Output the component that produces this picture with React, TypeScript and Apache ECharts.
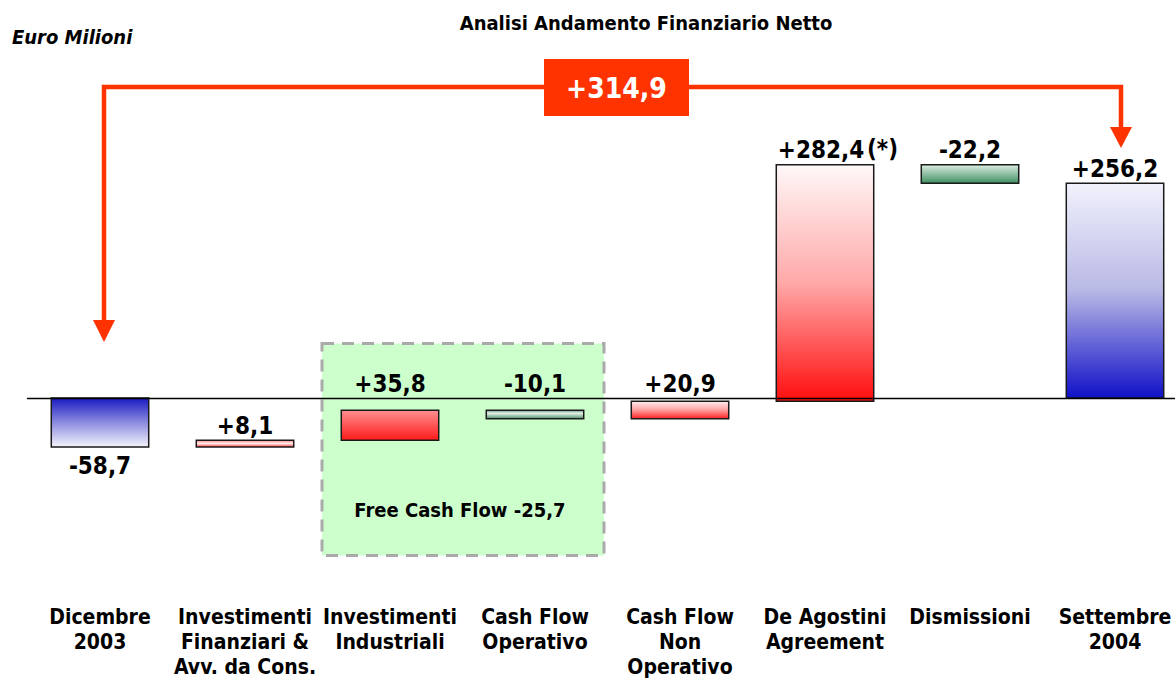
import React, { useEffect, useRef } from 'react';
import * as echarts from 'echarts';

const categories = [
  'Dicembre\n2003',
  'Investimenti\nFinanziari &\nAvv. da Cons.',
  'Investimenti\nIndustriali',
  'Cash Flow\nOperativo',
  'Cash Flow\nNon\nOperativo',
  'De Agostini\nAgreement',
  'Dismissioni',
  'Settembre\n2004',
];
const deltas = [-58.7, 8.1, 35.8, -10.1, 20.9, 282.4, -22.2, 256.2];
const isTotal = [true, false, false, false, false, false, false, true];
const notes = ['', '', '', '', '', '(*)', '', ''];
const freeCashFlow = -25.7;
const titleText = 'Analisi Andamento Finanziario Netto';
const unitText = 'Euro Milioni';

const FONT = "'DejaVu Sans Condensed', 'DejaVu Sans', sans-serif";
const ORANGE = '#ff3300';

const barFills: [number, string][][] = [
  [[0, '#1a1ac2'], [0.5, '#8c8ce0'], [1, '#f4f4fb']],
  [[0, '#ff8080'], [0.45, '#fff0f0'], [1, '#ff4040']],
  [[0, '#ff9090'], [1, '#ff1a1a']],
  [[0, '#6e9e84'], [0.35, '#e4f2e8'], [1, '#4d8d69']],
  [[0, '#fff0f0'], [0.5, '#ffa0a0'], [1, '#ff2020']],
  [[0, '#fff8f8'], [0.5, '#ffa8a8'], [1, '#ff0d0d']],
  [[0, '#dceee3'], [1, '#3f8f62']],
  [[0, '#f2f2fc'], [0.5, '#b8b8e6'], [1, '#1010c8']],
];

function fmt(v: number, plus: boolean) {
  const s = Math.abs(v).toFixed(1).replace('.', ',');
  return (v < 0 ? '-' : plus ? '+' : '') + s;
}

function buildRanges() {
  let cum = 0;
  return deltas.map((d, i) => {
    if (isTotal[i]) {
      cum = d;
      return [i, Math.min(0, d), Math.max(0, d)];
    }
    const a = cum;
    cum += d;
    return [i, Math.min(a, cum), Math.max(a, cum)];
  });
}

export default function App() {
  const ref = useRef<HTMLDivElement>(null);
  useEffect(() => {
    if (!ref.current) return;
    const chart = echarts.init(ref.current, null, { renderer: 'svg' });
    const ranges = buildRanges();
    const totalChange = deltas[deltas.length - 1] - deltas[0];
    const valueFs = 24;

    const renderItem = (params: any, api: any) => {
      const i = api.value(0);
      const lo = api.value(1);
      const hi = api.value(2);
      const pTop = api.coord([i, hi]);
      const pBot = api.coord([i, lo]);
      const band = api.size([1, 0])[0];
      const w = band * 0.672;
      const cx = pTop[0];
      const children: any[] = [
        {
          type: 'rect',
          shape: { x: cx - w / 2, y: pTop[1], width: w, height: pBot[1] - pTop[1] },
          style: {
            fill: new echarts.graphic.LinearGradient(
              0, 0, 0, 1,
              barFills[i].map(([o, c]) => ({ offset: o, color: c }))
            ),
            stroke: '#1a1a1a',
            lineWidth: 1.5,
          },
        },
      ];
      let baseline: number;
      if (isTotal[i] && deltas[i] < 0) {
        baseline = pBot[1] + 27;
      } else {
        const anchor = hi < 0 && hi > -20 ? api.coord([i, 0])[1] : pTop[1];
        baseline = anchor - 6;
      }
      const label = fmt(deltas[i], true);
      const lx = notes[i] ? cx - 4 : cx;
      children.push({
        type: 'text',
        style: {
          text: label,
          x: lx,
          y: baseline - 0.35 * valueFs,
          align: 'center',
          verticalAlign: 'middle',
          fontSize: valueFs,
          fontWeight: 'bold',
          fontFamily: FONT,
          fill: '#000',
        },
      });
      if (notes[i]) {
        children.push({
          type: 'text',
          style: {
            text: notes[i],
            x: lx + 46,
            y: baseline - 0.35 * valueFs - 1,
            align: 'left',
            verticalAlign: 'middle',
            fontSize: 24,
            fontWeight: 'bold',
            fontFamily: FONT,
            fill: '#000',
          },
        });
      }
      return { type: 'group', children };
    };

    chart.setOption({
      animation: false,
      backgroundColor: '#fff',
      title: [
        {
          text: titleText,
          left: 641,
          top: 8,
          textAlign: 'center',
          textStyle: { fontFamily: FONT, fontWeight: 'bold', fontSize: 20, color: '#000' },
        },
        {
          text: unitText,
          left: 7,
          top: 22,
          textStyle: {
            fontFamily: FONT,
            fontWeight: 'bold',
            fontStyle: 'italic',
            fontSize: 20,
            color: '#000',
          },
        },
      ],
      grid: { left: 27.5, top: 146.6, width: 1160, height: 452.5 },
      xAxis: [
        {
          type: 'category',
          data: categories,
          z: 10,
          axisLine: { show: true, onZero: true, lineStyle: { color: '#000', width: 1.3 } },
          axisTick: { show: false },
          axisLabel: { show: false },
          splitLine: { show: false },
        },
        {
          type: 'category',
          data: categories,
          position: 'bottom',
          axisLine: { show: false, onZero: false },
          axisTick: { show: false },
          axisLabel: {
            interval: 0,
            margin: 5,
            fontFamily: FONT,
            fontWeight: 'bold',
            fontSize: 21,
            lineHeight: 25,
            color: '#000',
            align: 'center',
          },
          splitLine: { show: false },
        },
      ],
      yAxis: {
        type: 'value',
        min: -240,
        max: 300,
        show: false,
        splitLine: { show: false },
      },
      series: [
        {
          type: 'custom',
          xAxisIndex: 0,
          renderItem,
          data: ranges,
          z: 3,
        },
      ],
      graphic: [
        {
          type: 'rect',
          z: -10,
          shape: { x: 322, y: 343.5, width: 282, height: 212 },
          style: { fill: '#ccffcc', stroke: '#aaaaaa', lineWidth: 3, lineDash: [12, 8] },
        },
        {
          type: 'text',
          z: 20,
          style: {
            text: 'Free Cash Flow ' + fmt(freeCashFlow, false),
            x: 460,
            y: 510,
            align: 'center',
            verticalAlign: 'middle',
            fontSize: 20,
            fontWeight: 'bold',
            fontFamily: FONT,
            fill: '#000',
          },
        },
        {
          type: 'polyline',
          z: 20,
          shape: { points: [[104, 322], [104, 87], [1121, 87], [1121, 129]] },
          style: { stroke: ORANGE, lineWidth: 4.5, fill: null },
        },
        {
          type: 'polygon',
          z: 20,
          shape: { points: [[93, 320], [115, 320], [104, 342]] },
          style: { fill: ORANGE },
        },
        {
          type: 'polygon',
          z: 20,
          shape: { points: [[1110, 127], [1132, 127], [1121, 148]] },
          style: { fill: ORANGE },
        },
        {
          type: 'rect',
          z: 21,
          shape: { x: 544, y: 59, width: 145, height: 57 },
          style: { fill: ORANGE },
        },
        {
          type: 'text',
          z: 22,
          style: {
            text: fmt(totalChange, true),
            x: 616.5,
            y: 88,
            align: 'center',
            verticalAlign: 'middle',
            fontSize: 28,
            fontWeight: 'bold',
            fontFamily: FONT,
            fill: '#fff',
          },
        },
      ],
    });
    return () => chart.dispose();
  }, []);
  return (
    <div
      style={{
        position: 'absolute',
        left: 0,
        top: 0,
        width: 1175,
        height: 679,
        overflow: 'hidden',
        background: '#fff',
      }}
    >
      <div ref={ref} style={{ width: 1190, height: 679 }} />
    </div>
  );
}
